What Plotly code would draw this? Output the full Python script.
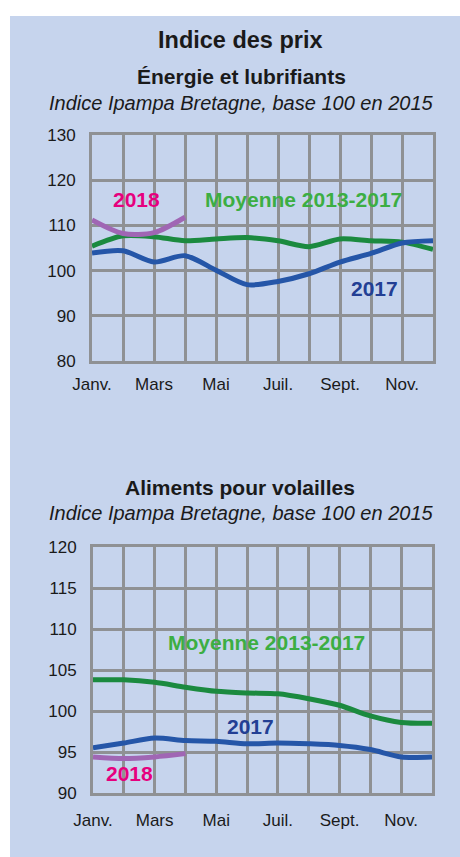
import plotly.graph_objects as go

W, H = 460, 857

months = list(range(1, 13))
tick_text = ["Janv.", "", "Mars", "", "Mai", "", "Juil.", "", "Sept.", "", "Nov.", ""]

# Top chart: Énergie et lubrifiants
energie_moy = [105.4, 107.7, 107.5, 106.6, 107.0, 107.3, 106.6, 105.3, 107.0, 106.6, 106.3, 104.7]
energie_2017 = [103.9, 104.4, 101.9, 103.3, 100.1, 96.9, 97.6, 99.3, 101.9, 103.8, 106.1, 106.6]
energie_2018 = [111.2, 108.2, 108.4, 111.8]

# Bottom chart: Aliments pour volailles
aliments_moy = [103.8, 103.8, 103.5, 102.9, 102.4, 102.2, 102.1, 101.5, 100.7, 99.4, 98.6, 98.5]
aliments_2017 = [95.5, 96.1, 96.7, 96.4, 96.3, 96.0, 96.1, 96.0, 95.8, 95.3, 94.4, 94.4]
aliments_2018 = [94.4, 94.2, 94.4, 94.8]

GREEN_LINE = "#1b8a3f"
GREEN_TXT = "#3cae43"
BLUE_LINE = "#2556a8"
BLUE_TXT = "#233f94"
PURPLE_LINE = "#a066b4"
PINK_TXT = "#e6007e"
PANEL = "#c6d4ed"
GRID = "#8f9194"
FONT = "Liberation Sans, Arial, sans-serif"


def px(x):
    return x / W


def py(y):
    return 1 - y / H


fig = go.Figure()

series = [
    ("x", "y", energie_moy, GREEN_LINE),
    ("x", "y", energie_2017, BLUE_LINE),
    ("x", "y", energie_2018, PURPLE_LINE),
    ("x2", "y2", aliments_moy, GREEN_LINE),
    ("x2", "y2", aliments_2017, BLUE_LINE),
    ("x2", "y2", aliments_2018, PURPLE_LINE),
]
for xa, ya, vals, col in series:
    fig.add_trace(go.Scatter(
        x=months[:len(vals)], y=vals, xaxis=xa, yaxis=ya, mode="lines",
        line=dict(color=col, width=5, shape="spline", smoothing=0.8),
        showlegend=False, hoverinfo="skip"))

xcommon = dict(
    range=[1, 12], tickmode="array", tickvals=months, ticktext=tick_text,
    showgrid=True, gridcolor=GRID, gridwidth=2.5, showline=True, linecolor=GRID,
    linewidth=3, mirror=True, ticks="outside", tickcolor="rgba(0,0,0,0)",
    tickfont=dict(size=17, color="#1a1a1a", family=FONT), zeroline=False,
    fixedrange=True, automargin=False)
ycommon = dict(
    showgrid=True, gridcolor=GRID, gridwidth=2.5, showline=True, linecolor=GRID,
    linewidth=3, mirror=True, ticks="outside", ticklen=10, tickcolor="rgba(0,0,0,0)",
    tickfont=dict(size=17, color="#1a1a1a", family=FONT), zeroline=False,
    fixedrange=True, automargin=False)

fig.update_layout(
    width=W, height=H, margin=dict(l=0, r=0, t=0, b=0, pad=0, autoexpand=False),
    paper_bgcolor="white", plot_bgcolor="white",
    xaxis=dict(xcommon, domain=[px(92), px(433)], anchor="y", ticklen=6),
    yaxis=dict(ycommon, domain=[py(361), py(135)], anchor="x", range=[80, 130],
               tickvals=[80, 90, 100, 110, 120, 130]),
    xaxis2=dict(xcommon, domain=[px(93), px(432)], anchor="y2", ticklen=10),
    yaxis2=dict(ycommon, domain=[py(793), py(547)], anchor="x2", range=[90, 120],
                tickvals=[90, 95, 100, 105, 110, 115, 120]),
    shapes=[dict(type="rect", xref="paper", yref="paper", x0=px(10), x1=1,
                 y0=0, y1=py(16), fillcolor=PANEL, line=dict(width=0), layer="below")],
)

texts = [
    ("<b>Indice des prix</b>", 240, 40, 23.5, "#1a1a1a"),
    ("<b>Énergie et lubrifiants</b>", 242, 76, 21, "#1a1a1a"),
    ("<i>Indice Ipampa Bretagne, base 100 en 2015</i>", 241, 103, 20, "#1a1a1a"),
    ("<b>Aliments pour volailles</b>", 240, 488, 21, "#1a1a1a"),
    ("<i>Indice Ipampa Bretagne, base 100 en 2015</i>", 241, 513, 20, "#1a1a1a"),
    ("<b>2018</b>", 136, 199, 21, PINK_TXT),
    ("<b>Moyenne 2013-2017</b>", 303, 199, 21, GREEN_TXT),
    ("<b>2017</b>", 374, 288, 21, BLUE_TXT),
    ("<b>Moyenne 2013-2017</b>", 266, 642, 21, GREEN_TXT),
    ("<b>2017</b>", 250, 726, 21, BLUE_TXT),
    ("<b>2018</b>", 129, 773, 21, PINK_TXT),
]
for t, x, y, s, c in texts:
    fig.add_annotation(text=t, x=px(x), y=py(y), xref="paper", yref="paper",
                       xanchor="center", yanchor="middle", showarrow=False,
                       font=dict(size=s, color=c, family=FONT))

fig.write_html(
    "out.html",
    config={"displayModeBar": False},
    post_script="document.body.style.margin='0';document.body.style.padding='0';"
                "document.body.style.overflow='hidden';"
                "document.documentElement.style.overflow='hidden';")
